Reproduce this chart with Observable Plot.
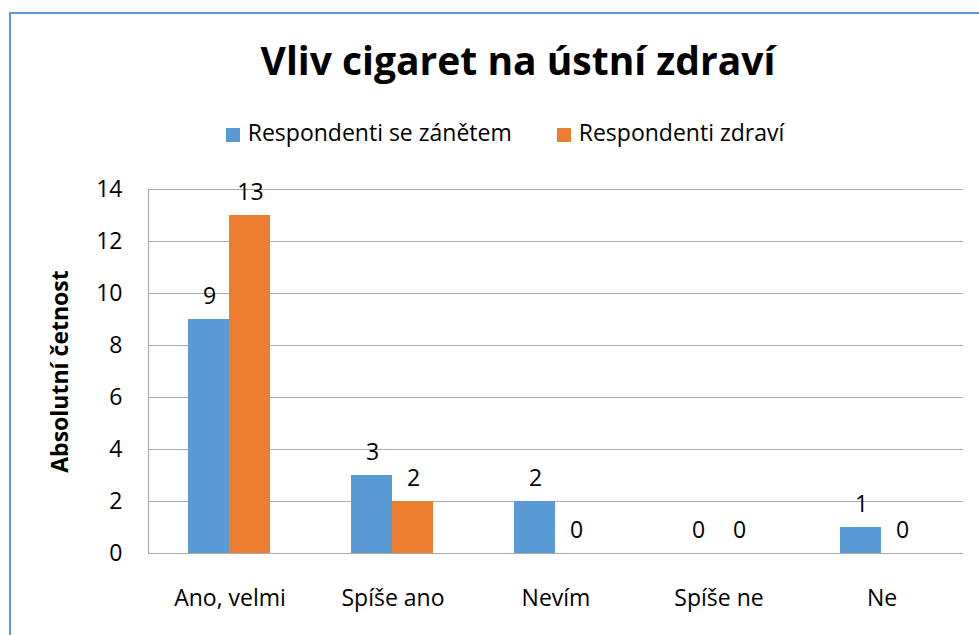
<!DOCTYPE html>
<html>
<head>
<meta charset="utf-8">
<script src="https://cdn.jsdelivr.net/npm/d3@7"></script>
<script src="https://cdn.jsdelivr.net/npm/@observablehq/plot@0.6"></script>
<style>
  html, body { margin: 0; padding: 0; background: #fff; }
  #wrap { position: relative; width: 979px; height: 635px; overflow: hidden; background: #fff; font-family: "Open Sans", sans-serif; }
  #border { position: absolute; left: 9px; top: 12px; right: -10px; bottom: -10px; border-left: 2px solid #5B9BD5; border-top: 2px solid #5B9BD5; }
  #title { position: absolute; left: 0; width: 1036px; top: 40px; text-align: center; font-size: 39px; line-height: 39px; font-weight: 700; color: #000; white-space: nowrap; }
  #legend { position: absolute; left: 0; width: 1010px; top: 121px; display: flex; justify-content: center; gap: 45px; font-size: 23px; line-height: 23px; color: #000; }
  .item { display: flex; align-items: flex-start; white-space: nowrap; }
  .sw { width: 14px; height: 14px; margin-top: 7px; margin-right: 8px; }
  #chart { position: absolute; left: 0; top: 0; }
</style>
</head>
<body>
<div id="wrap">
  <div id="chart"></div>
  <div id="border"></div>
  <div id="title"></div>
  <div id="legend"></div>
</div>
<script>
const titleText = "Vliv cigaret na ústní zdraví";
const yLabel = "Absolutní četnost";
const categories = ["Ano, velmi", "Spíše ano", "Nevím", "Spíše ne", "Ne"];
const seriesNames = ["Respondenti se zánětem", "Respondenti zdraví"];
const inflamed = [9, 3, 2, 0, 1];
const healthy = [13, 2, 0, 0, 0];
const yTicks = [0, 2, 4, 6, 8, 10, 12, 14];
const colors = ["#5B9BD5", "#ED7D31"];

const dataA = categories.map((c, i) => ({category: c, series: seriesNames[0], value: inflamed[i]}));
const dataB = categories.map((c, i) => ({category: c, series: seriesNames[1], value: healthy[i]}));

document.getElementById("title").textContent = titleText;
const legend = document.getElementById("legend");
seriesNames.forEach((s, i) => {
  const item = document.createElement("div");
  item.className = "item";
  const sw = document.createElement("div");
  sw.className = "sw";
  sw.style.background = colors[i];
  const t = document.createElement("span");
  t.textContent = s;
  item.appendChild(sw);
  item.appendChild(t);
  legend.appendChild(item);
});

const gridColor = "#ababab";
const chart = Plot.plot({
  width: 979,
  height: 635,
  marginTop: 189,
  marginBottom: 82,
  marginLeft: 148,
  marginRight: 16,
  style: {fontFamily: "Open Sans, sans-serif", fontSize: "23px", color: "#000", background: "transparent"},
  x: {domain: categories, padding: 0},
  y: {domain: [0, 14]},
  color: {domain: seriesNames, range: colors},
  marks: [
    Plot.gridY(yTicks, {stroke: gridColor, strokeOpacity: 1, strokeWidth: 1}),
    Plot.frame({anchor: "left", stroke: gridColor, strokeWidth: 1.2}),
    Plot.barY(dataA, {x: "category", y: "value", fill: "series", insetLeft: 40, insetRight: 82}),
    Plot.barY(dataB, {x: "category", y: "value", fill: "series", insetLeft: 81, insetRight: 41}),
    Plot.ruleY([0], {stroke: gridColor, strokeWidth: 1.2}),
    Plot.text(dataA, {x: "category", y: "value", text: d => String(d.value), dx: -20.5, dy: -23, fontSize: 23, fill: "#000"}),
    Plot.text(dataB, {x: "category", y: "value", text: d => String(d.value), dx: 20.5, dy: -23, fontSize: 23, fill: "#000"}),
    Plot.axisY(yTicks, {tickSize: 0, tickPadding: 26, fontSize: 23, label: null, fill: "#000"}),
    Plot.axisX({tickSize: 0, tickPadding: 36, fontSize: 23, label: null, fill: "#000"}),
    Plot.text([yLabel], {frameAnchor: "left", textAnchor: "middle", dx: -88, rotate: -90, fontSize: 23, fontWeight: "bold", fill: "#000"})
  ]
});
document.getElementById("chart").appendChild(chart);
</script>
</body>
</html>
